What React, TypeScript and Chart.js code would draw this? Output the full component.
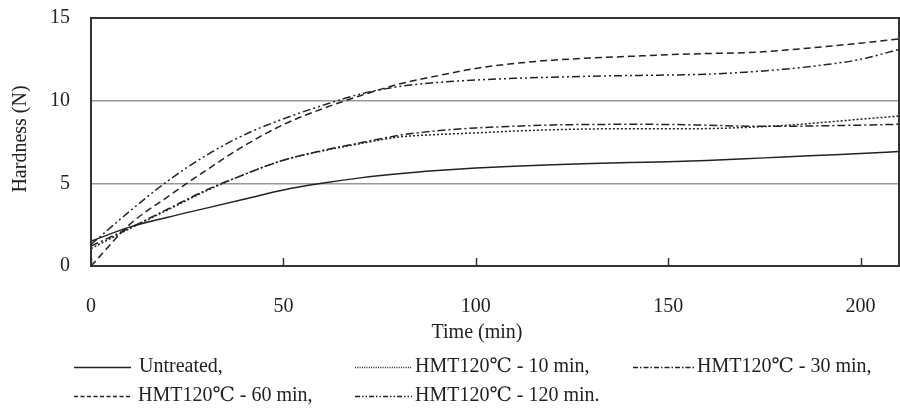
import React, { useEffect, useRef } from "react";
import { Chart, registerables } from "chart.js";

Chart.register(...registerables);

// ---- data ----
const times = [0, 10, 20, 30, 40, 50, 60, 70, 80, 90, 100, 110, 120, 130, 140, 150, 160, 170, 180, 190, 200, 210];
const untreated = [1.5, 2.35, 2.95, 3.5, 4.05, 4.6, 5.0, 5.33, 5.58, 5.77, 5.92, 6.03, 6.12, 6.2, 6.26, 6.3, 6.38, 6.48, 6.6, 6.7, 6.8, 6.92];
const hmt10 = [1.05, 2.25, 3.4, 4.55, 5.55, 6.4, 6.95, 7.4, 7.8, 7.95, 8.05, 8.16, 8.24, 8.29, 8.3, 8.3, 8.31, 8.38, 8.5, 8.68, 8.88, 9.07];
const hmt30 = [1.2, 2.3, 3.45, 4.6, 5.55, 6.4, 6.98, 7.45, 7.9, 8.18, 8.35, 8.45, 8.53, 8.56, 8.57, 8.56, 8.52, 8.46, 8.45, 8.48, 8.52, 8.57];
const hmt60 = [0.0, 2.5, 4.2, 5.8, 7.3, 8.55, 9.5, 10.3, 11.0, 11.5, 11.95, 12.25, 12.45, 12.58, 12.68, 12.78, 12.85, 12.9, 13.05, 13.25, 13.48, 13.73];
const hmt120 = [1.3, 3.3, 5.15, 6.7, 7.95, 8.9, 9.7, 10.4, 10.85, 11.1, 11.25, 11.35, 11.42, 11.48, 11.52, 11.55, 11.6, 11.72, 11.9, 12.15, 12.5, 13.1];
const seriesLabels = ["Untreated,", "HMT120℃ - 10 min,", "HMT120℃ - 30 min,", "HMT120℃ - 60 min,", "HMT120℃ - 120 min."];
const xTicks = [0, 50, 100, 150, 200];
const yTicks = [0, 5, 10, 15];
const xTitle = "Time (min)";
const yTitle = "Hardness (N)";

const FONT = '"Liberation Serif", "DejaVu Serif", "Noto Sans CJK JP", serif';
const INK = "#222";

const chartDashes = [[], [2, 2], [8, 3, 2, 3], [7, 4], [8, 3, 2, 3, 2, 3]];
const legendDashes = [[], [1, 1.3], [5, 2, 1.5, 2], [4, 2.5], [5, 2, 1.5, 2, 1.5, 2]];
const legendPos = [
  { x: 74, w: 57, y: 367, tx: 139 },
  { x: 355, w: 57, y: 367, tx: 415 },
  { x: 633, w: 62, y: 367, tx: 697 },
  { x: 74, w: 57, y: 396, tx: 138 },
  { x: 355, w: 57, y: 396, tx: 415 },
];

const overlay = {
  id: "overlay",
  afterDraw(chart: any) {
    const { ctx, chartArea } = chart;
    const { left, right, top, bottom } = chartArea;
    const xs = chart.scales.x;
    ctx.save();
    // box frame
    ctx.strokeStyle = "#333";
    ctx.lineWidth = 2;
    ctx.setLineDash([]);
    ctx.strokeRect(left, top, right - left, bottom - top);
    // inner tick marks
    ctx.lineWidth = 1.5;
    xTicks.forEach((v) => {
      const px = Math.round(xs.getPixelForValue(v)) + 0.5;
      ctx.beginPath();
      ctx.moveTo(px, bottom);
      ctx.lineTo(px, bottom - 8);
      ctx.stroke();
    });
    // axis titles
    ctx.fillStyle = INK;
    ctx.font = `20px ${FONT}`;
    ctx.textAlign = "center";
    ctx.textBaseline = "middle";
    ctx.fillText(xTitle, 477, 333);
    ctx.save();
    ctx.translate(21, 139);
    ctx.rotate(-Math.PI / 2);
    ctx.fillText(yTitle, 0, 0);
    ctx.restore();
    // legend
    ctx.textAlign = "left";
    seriesLabels.forEach((lab, i) => {
      const p = legendPos[i];
      ctx.strokeStyle = INK;
      ctx.lineWidth = 1.3;
      ctx.setLineDash(legendDashes[i]);
      ctx.beginPath();
      ctx.moveTo(p.x, p.y + 0.5);
      ctx.lineTo(p.x + p.w, p.y + 0.5);
      ctx.stroke();
      ctx.setLineDash([]);
      ctx.fillText(lab, p.tx, p.y);
    });
    ctx.restore();
  },
};

export default function App() {
  const ref = useRef<HTMLCanvasElement | null>(null);
  useEffect(() => {
    if (!ref.current) return;
    const all = [untreated, hmt10, hmt30, hmt60, hmt120];
    const chart = new Chart(ref.current, {
      type: "line",
      data: {
        datasets: all.map((vals, i) => ({
          label: seriesLabels[i],
          data: times.map((t, j) => ({ x: t, y: vals[j] })),
          borderColor: INK,
          borderWidth: 1.5,
          borderDash: chartDashes[i],
          pointRadius: 0,
          fill: false,
          cubicInterpolationMode: "monotone" as const,
        })),
      },
      options: {
        animation: false,
        responsive: false,
        devicePixelRatio: 1,
        layout: { padding: { top: 18, right: 1, bottom: 0, left: 0 } },
        plugins: { legend: { display: false }, tooltip: { enabled: false } },
        scales: {
          x: {
            type: "linear",
            min: 0,
            max: 210,
            grid: { display: false },
            border: { display: false },
            afterBuildTicks: (s: any) => {
              s.ticks = xTicks.map((v) => ({ value: v }));
            },
            afterFit: (s: any) => {
              s.height = 146;
              s.paddingLeft = 0;
              s.paddingRight = 0;
            },
            ticks: {
              padding: 21,
              maxRotation: 0,
              autoSkip: false,
              color: INK,
              font: { family: FONT, size: 20 },
            },
          },
          y: {
            type: "linear",
            min: 0,
            max: 15,
            grid: { color: "#999", lineWidth: 1.5, drawTicks: false },
            border: { display: false },
            afterBuildTicks: (s: any) => {
              s.ticks = yTicks.map((v) => ({ value: v }));
            },
            afterFit: (s: any) => {
              s.width = 91;
              s.paddingTop = 0;
              s.paddingBottom = 0;
            },
            ticks: {
              padding: 21,
              color: INK,
              font: { family: FONT, size: 20 },
            },
          },
        },
      },
      plugins: [overlay],
    });
    return () => chart.destroy();
  }, []);
  return (
    <div style={{ position: "absolute", left: 0, top: 0, width: 900, height: 412, background: "#fff" }}>
      <canvas ref={ref} width={900} height={412} style={{ width: 900, height: 412, display: "block" }} />
    </div>
  );
}
